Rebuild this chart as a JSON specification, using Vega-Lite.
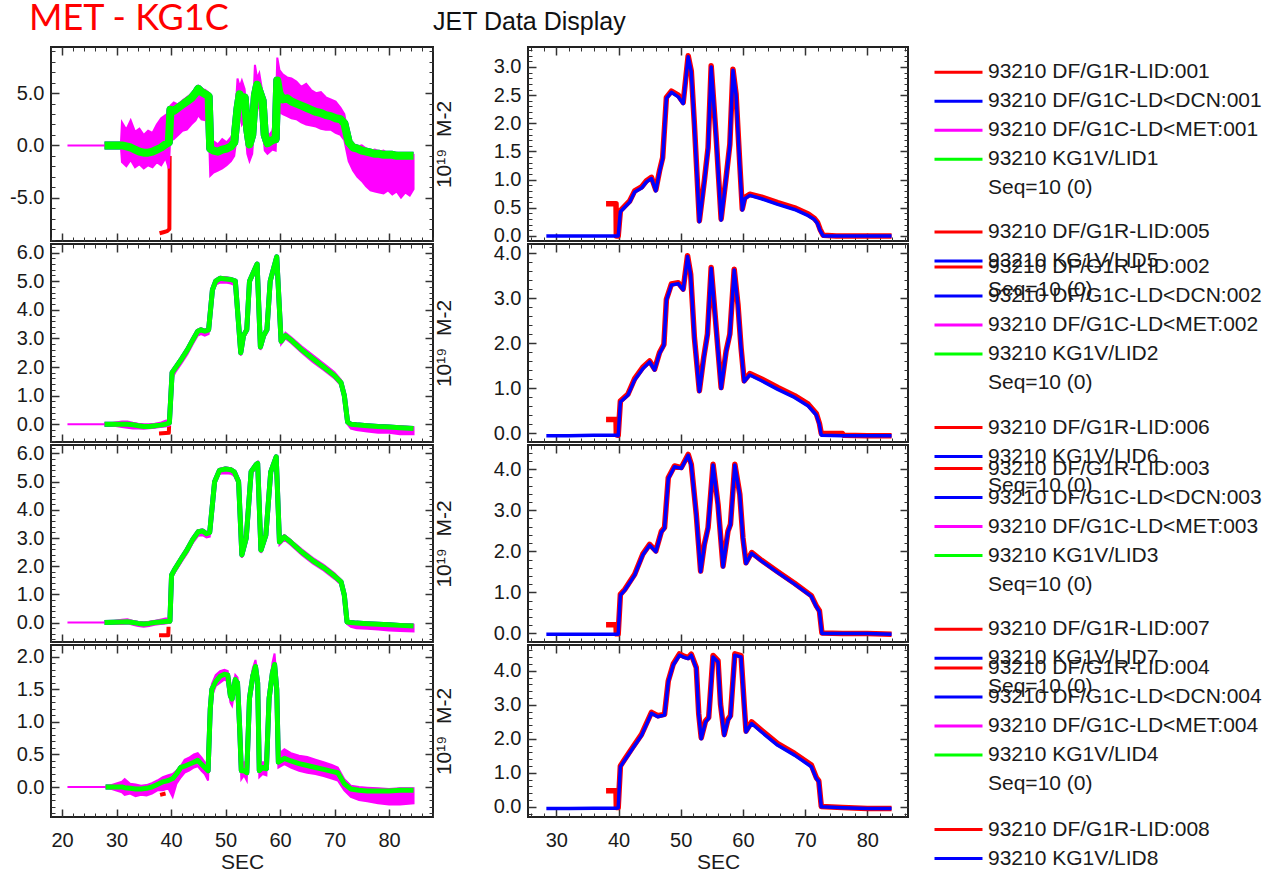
{
  "$schema": "https://vega.github.io/schema/vega-lite/v6.json",
  "padding": {"left": 8, "top": 0, "right": 0, "bottom": 0},
  "background": "white",
  "bounds": "flush",
  "columns": 2,
  "spacing": {"row": 3, "column": 95},
  "resolve": {"scale": {"color": "independent", "x": "independent", "y": "independent"}, "legend": {"color": "independent"}},
  "config": {
    "font": "Liberation Sans",
    "view": {"stroke": "#222", "strokeWidth": 2},
    "mark": {"invalid": "filter"},
    "line": {"strokeJoin": "round"},
    "axis": {"domain": false, "grid": false, "tickColor": "#333", "tickWidth": 1.5, "tickSize": -8, "labelFont": "Liberation Sans", "labelFontSize": 20, "labelColor": "#1a1a1a", "labelPadding": 15, "labelFlush": false, "labelOverlap": false, "titleFont": "Liberation Sans", "titleFontSize": 21, "titleFontWeight": "normal", "titleColor": "#1a1a1a"},
    "axisBottom": {"labelPadding": 21, "titlePadding": 1},
    "legend": {"labelFont": "Liberation Sans", "labelFontSize": 21, "labelColor": "#1a1a1a", "labelLimit": 400, "symbolType": "stroke", "symbolStrokeWidth": 3, "symbolSize": 2304, "clipHeight": 26, "rowPadding": 3, "padding": 0, "labelOffset": 4}
  },
  "concat": [
    {
      "title": {"text": "MET - KG1C", "color": "#ff0000", "font": "Lato", "fontSize": 36, "fontWeight": "normal", "anchor": "start", "frame": "group", "dx": -22, "baseline": "alphabetic", "offset": -20.2},
      "data": {"name": "left"},
      "width": 382, "height": 194,
      "transform": [{"filter": "datum.p === 'L1'"}],
      "layer": [
        {"mark": {"type": "line", "strokeWidth": 4, "clip": true},
         "encoding": {
           "x": {"field": "t", "type": "quantitative", "scale": {"domain": [17.98, 88.07], "nice": false, "zero": false}, "axis": {"orient": "bottom", "values": [20,30,40,50,60,70,80], "labels": false, "title": null}},
           "y": {"field": "r", "type": "quantitative", "scale": {"domain": [-9.14, 9.41], "nice": false, "zero": false}, "axis": {"orient": "left", "values": [-5,0,5], "format": ".1f", "labelExpr": "replace(datum.label, '\u2212', '-')", "title": null}},
           "color": {"datum": "93210 DF/G1R-LID:001", "type": "nominal", "scale": {"domain": ["93210 DF/G1R-LID:001","93210 DF/G1C-LD<DCN:001","93210 DF/G1C-LD<MET:001","93210 KG1V/LID1","Seq=10 (0)"], "range": ["#ff0000","#0000ff","#ff00ff","#00ff00","transparent"]}, "legend": {"orient": "none", "legendX": 882, "legendY": 12.2, "title": null, "symbolType": "stroke"}}
         }},
        {"mark": {"type": "line", "strokeWidth": 8, "clip": true},
         "encoding": {
           "x": {"field": "t", "type": "quantitative", "scale": {"domain": [17.98, 88.07], "nice": false, "zero": false}, "axis": {"orient": "top", "values": [20,30,40,50,60,70,80], "labels": false, "title": null}},
           "y": {"field": "g", "type": "quantitative", "scale": {"domain": [-9.14, 9.41], "nice": false, "zero": false}, "axis": {"orient": "right", "values": [-5,0,5], "labels": false, "title": "10\u00b9\u2079\u00a0\u00a0M-2", "titleAngle": 270, "titlePadding": 21}},
           "color": {"datum": "93210 DF/G1C-LD<DCN:001", "type": "nominal"}
         }},
        {"mark": {"type": "area", "stroke": "#ff00ff", "strokeWidth": 2, "clip": true},
         "encoding": {
           "x": {"field": "t", "type": "quantitative", "scale": {"domain": [17.98, 88.07], "nice": false, "zero": false}, "axis": {"orient": "bottom", "values": [18,20,22,24,26,28,30,32,34,36,38,40,42,44,46,48,50,52,54,56,58,60,62,64,66,68,70,72,74,76,78,80,82,84,86,88], "labels": false, "title": null, "tickSize": -4, "tickWidth": 1}},
           "y": {"field": "lo", "type": "quantitative", "scale": {"domain": [-9.14, 9.41], "nice": false, "zero": false}, "axis": {"orient": "left", "values": [-9,-8,-7,-6,-5,-4,-3,-2,-1,0,1,2,3,4,5,6,7,8,9], "labels": false, "title": null, "tickSize": -4, "tickWidth": 1}},
           "y2": {"field": "hi"},
           "color": {"datum": "93210 DF/G1C-LD<MET:001", "type": "nominal"}
         }},
        {"mark": {"type": "line", "strokeWidth": 8, "clip": true},
         "encoding": {
           "x": {"field": "t", "type": "quantitative", "scale": {"domain": [17.98, 88.07], "nice": false, "zero": false}, "axis": {"orient": "top", "values": [18,20,22,24,26,28,30,32,34,36,38,40,42,44,46,48,50,52,54,56,58,60,62,64,66,68,70,72,74,76,78,80,82,84,86,88], "labels": false, "title": null, "tickSize": -4, "tickWidth": 1}},
           "y": {"field": "g", "type": "quantitative", "scale": {"domain": [-9.14, 9.41], "nice": false, "zero": false}, "axis": {"orient": "right", "values": [-9,-8,-7,-6,-5,-4,-3,-2,-1,0,1,2,3,4,5,6,7,8,9], "labels": false, "title": null, "tickSize": -4, "tickWidth": 1}},
           "color": {"datum": "93210 KG1V/LID1", "type": "nominal"}
         }}
      ],
      "resolve": {"axis": {"x": "independent", "y": "independent"}}
    },
    {
      "title": {"text": "JET Data Display", "color": "#111", "font": "Liberation Sans", "fontSize": 25, "fontWeight": "normal", "anchor": "start", "frame": "group", "dx": -95, "baseline": "alphabetic", "offset": -8.7},
      "data": {"name": "right"},
      "width": 380, "height": 194,
      "transform": [{"filter": "datum.p === 'R1'"}],
      "layer": [
        {"mark": {"type": "line", "opacity": 0},
         "encoding": {
           "x": {"field": "t", "type": "quantitative", "scale": {"domain": [25.45, 86.54], "nice": false, "zero": false}, "axis": {"orient": "bottom", "values": [26,28,30,32,34,36,38,40,42,44,46,48,50,52,54,56,58,60,62,64,66,68,70,72,74,76,78,80,82,84,86], "labels": false, "title": null, "tickSize": -4, "tickWidth": 1}},
           "y": {"field": "b", "type": "quantitative", "scale": {"domain": [-0.09, 3.355], "nice": false, "zero": false}, "axis": {"orient": "left", "values": [0,0.1,0.2,0.3,0.4,0.5,0.6,0.7,0.8,0.9,1,1.1,1.2,1.3,1.4,1.5,1.6,1.7,1.8,1.9,2,2.1,2.2,2.3,2.4,2.5,2.6,2.7,2.8,2.9,3,3.1,3.2,3.3], "labels": false, "title": null, "tickSize": -4, "tickWidth": 1}}
         }},
        {"mark": {"type": "line", "opacity": 0},
         "encoding": {
           "x": {"field": "t", "type": "quantitative", "scale": {"domain": [25.45, 86.54], "nice": false, "zero": false}, "axis": {"orient": "top", "values": [26,28,30,32,34,36,38,40,42,44,46,48,50,52,54,56,58,60,62,64,66,68,70,72,74,76,78,80,82,84,86], "labels": false, "title": null, "tickSize": -4, "tickWidth": 1}},
           "y": {"field": "b", "type": "quantitative", "scale": {"domain": [-0.09, 3.355], "nice": false, "zero": false}, "axis": {"orient": "right", "values": [0,0.1,0.2,0.3,0.4,0.5,0.6,0.7,0.8,0.9,1,1.1,1.2,1.3,1.4,1.5,1.6,1.7,1.8,1.9,2,2.1,2.2,2.3,2.4,2.5,2.6,2.7,2.8,2.9,3,3.1,3.2,3.3], "labels": false, "title": null, "tickSize": -4, "tickWidth": 1}}
         }},
        {"mark": {"type": "line", "strokeWidth": 5.5, "clip": true},
         "encoding": {
           "x": {"field": "t", "type": "quantitative", "scale": {"domain": [25.45, 86.54], "nice": false, "zero": false}, "axis": {"orient": "bottom", "values": [30,40,50,60,70,80], "labels": false, "title": null}},
           "y": {"field": "r", "type": "quantitative", "scale": {"domain": [-0.09, 3.355], "nice": false, "zero": false}, "axis": {"orient": "left", "values": [0,0.5,1,1.5,2,2.5,3], "format": ".1f", "title": null}},
           "color": {"datum": "93210 DF/G1R-LID:005", "type": "nominal", "scale": {"domain": ["93210 DF/G1R-LID:005","93210 KG1V/LID5","Seq=10 (0)"], "range": ["#ff0000","#0000ff","transparent"]}, "legend": {"orient": "none", "legendX": 405, "legendY": 172, "title": null, "symbolType": "stroke"}}
         }},
        {"mark": {"type": "line", "strokeWidth": 3.5, "clip": true},
         "encoding": {
           "x": {"field": "t", "type": "quantitative", "scale": {"domain": [25.45, 86.54], "nice": false, "zero": false}, "axis": {"orient": "top", "values": [30,40,50,60,70,80], "labels": false, "title": null}},
           "y": {"field": "b", "type": "quantitative", "scale": {"domain": [-0.09, 3.355], "nice": false, "zero": false}, "axis": {"orient": "right", "values": [0,0.5,1,1.5,2,2.5,3], "labels": false, "title": null}},
           "color": {"datum": "93210 KG1V/LID5", "type": "nominal"}
         }}
      ],
      "resolve": {"axis": {"x": "independent", "y": "independent"}}
    },
    {
      "data": {"name": "left"},
      "width": 382, "height": 198,
      "transform": [{"filter": "datum.p === 'L2'"}],
      "layer": [
        {"mark": {"type": "line", "strokeWidth": 4, "clip": true},
         "encoding": {
           "x": {"field": "t", "type": "quantitative", "scale": {"domain": [17.98, 88.07], "nice": false, "zero": false}, "axis": {"orient": "bottom", "values": [20,30,40,50,60,70,80], "labels": false, "title": null}},
           "y": {"field": "r", "type": "quantitative", "scale": {"domain": [-0.62, 6.3], "nice": false, "zero": false}, "axis": {"orient": "left", "values": [0,1,2,3,4,5,6], "format": ".1f", "title": null}},
           "color": {"datum": "93210 DF/G1R-LID:002", "type": "nominal", "scale": {"domain": ["93210 DF/G1R-LID:002","93210 DF/G1C-LD<DCN:002","93210 DF/G1C-LD<MET:002","93210 KG1V/LID2","Seq=10 (0)"], "range": ["#ff0000","#0000ff","#ff00ff","#00ff00","transparent"]}, "legend": {"orient": "none", "legendX": 882, "legendY": 10, "title": null, "symbolType": "stroke"}}
         }},
        {"mark": {"type": "line", "strokeWidth": 5, "clip": true},
         "encoding": {
           "x": {"field": "t", "type": "quantitative", "scale": {"domain": [17.98, 88.07], "nice": false, "zero": false}, "axis": {"orient": "top", "values": [20,30,40,50,60,70,80], "labels": false, "title": null}},
           "y": {"field": "g", "type": "quantitative", "scale": {"domain": [-0.62, 6.3], "nice": false, "zero": false}, "axis": {"orient": "right", "values": [0,1,2,3,4,5,6], "labels": false, "title": "10\u00b9\u2079\u00a0\u00a0M-2", "titleAngle": 270, "titlePadding": 21}},
           "color": {"datum": "93210 DF/G1C-LD<DCN:002", "type": "nominal"}
         }},
        {"mark": {"type": "area", "stroke": "#ff00ff", "strokeWidth": 2, "clip": true},
         "encoding": {
           "x": {"field": "t", "type": "quantitative", "scale": {"domain": [17.98, 88.07], "nice": false, "zero": false}, "axis": {"orient": "bottom", "values": [18,20,22,24,26,28,30,32,34,36,38,40,42,44,46,48,50,52,54,56,58,60,62,64,66,68,70,72,74,76,78,80,82,84,86,88], "labels": false, "title": null, "tickSize": -4, "tickWidth": 1}},
           "y": {"field": "lo", "type": "quantitative", "scale": {"domain": [-0.62, 6.3], "nice": false, "zero": false}, "axis": {"orient": "left", "values": [-0.6,-0.4,-0.2,0,0.2,0.4,0.6,0.8,1,1.2,1.4,1.6,1.8,2,2.2,2.4,2.6,2.8,3,3.2,3.4,3.6,3.8,4,4.2,4.4,4.6,4.8,5,5.2,5.4,5.6,5.8,6,6.2], "labels": false, "title": null, "tickSize": -4, "tickWidth": 1}},
           "y2": {"field": "hi"},
           "color": {"datum": "93210 DF/G1C-LD<MET:002", "type": "nominal"}
         }},
        {"mark": {"type": "line", "strokeWidth": 5, "clip": true},
         "encoding": {
           "x": {"field": "t", "type": "quantitative", "scale": {"domain": [17.98, 88.07], "nice": false, "zero": false}, "axis": {"orient": "top", "values": [18,20,22,24,26,28,30,32,34,36,38,40,42,44,46,48,50,52,54,56,58,60,62,64,66,68,70,72,74,76,78,80,82,84,86,88], "labels": false, "title": null, "tickSize": -4, "tickWidth": 1}},
           "y": {"field": "g", "type": "quantitative", "scale": {"domain": [-0.62, 6.3], "nice": false, "zero": false}, "axis": {"orient": "right", "values": [-0.6,-0.4,-0.2,0,0.2,0.4,0.6,0.8,1,1.2,1.4,1.6,1.8,2,2.2,2.4,2.6,2.8,3,3.2,3.4,3.6,3.8,4,4.2,4.4,4.6,4.8,5,5.2,5.4,5.6,5.8,6,6.2], "labels": false, "title": null, "tickSize": -4, "tickWidth": 1}},
           "color": {"datum": "93210 KG1V/LID2", "type": "nominal"}
         }}
      ],
      "resolve": {"axis": {"x": "independent", "y": "independent"}}
    },
    {
      "data": {"name": "right"},
      "width": 380, "height": 198,
      "transform": [{"filter": "datum.p === 'R2'"}],
      "layer": [
        {"mark": {"type": "line", "opacity": 0},
         "encoding": {
           "x": {"field": "t", "type": "quantitative", "scale": {"domain": [25.45, 86.54], "nice": false, "zero": false}, "axis": {"orient": "bottom", "values": [26,28,30,32,34,36,38,40,42,44,46,48,50,52,54,56,58,60,62,64,66,68,70,72,74,76,78,80,82,84,86], "labels": false, "title": null, "tickSize": -4, "tickWidth": 1}},
           "y": {"field": "b", "type": "quantitative", "scale": {"domain": [-0.19, 4.21], "nice": false, "zero": false}, "axis": {"orient": "left", "values": [-0.2,0,0.2,0.4,0.6,0.8,1,1.2,1.4,1.6,1.8,2,2.2,2.4,2.6,2.8,3,3.2,3.4,3.6,3.8,4,4.2], "labels": false, "title": null, "tickSize": -4, "tickWidth": 1}}
         }},
        {"mark": {"type": "line", "opacity": 0},
         "encoding": {
           "x": {"field": "t", "type": "quantitative", "scale": {"domain": [25.45, 86.54], "nice": false, "zero": false}, "axis": {"orient": "top", "values": [26,28,30,32,34,36,38,40,42,44,46,48,50,52,54,56,58,60,62,64,66,68,70,72,74,76,78,80,82,84,86], "labels": false, "title": null, "tickSize": -4, "tickWidth": 1}},
           "y": {"field": "b", "type": "quantitative", "scale": {"domain": [-0.19, 4.21], "nice": false, "zero": false}, "axis": {"orient": "right", "values": [-0.2,0,0.2,0.4,0.6,0.8,1,1.2,1.4,1.6,1.8,2,2.2,2.4,2.6,2.8,3,3.2,3.4,3.6,3.8,4,4.2], "labels": false, "title": null, "tickSize": -4, "tickWidth": 1}}
         }},
        {"mark": {"type": "line", "strokeWidth": 5.5, "clip": true},
         "encoding": {
           "x": {"field": "t", "type": "quantitative", "scale": {"domain": [25.45, 86.54], "nice": false, "zero": false}, "axis": {"orient": "bottom", "values": [30,40,50,60,70,80], "labels": false, "title": null}},
           "y": {"field": "r", "type": "quantitative", "scale": {"domain": [-0.19, 4.21], "nice": false, "zero": false}, "axis": {"orient": "left", "values": [0,1,2,3,4], "format": ".1f", "title": null}},
           "color": {"datum": "93210 DF/G1R-LID:006", "type": "nominal", "scale": {"domain": ["93210 DF/G1R-LID:006","93210 KG1V/LID6","Seq=10 (0)"], "range": ["#ff0000","#0000ff","transparent"]}, "legend": {"orient": "none", "legendX": 405, "legendY": 170.5, "title": null, "symbolType": "stroke"}}
         }},
        {"mark": {"type": "line", "strokeWidth": 3.5, "clip": true},
         "encoding": {
           "x": {"field": "t", "type": "quantitative", "scale": {"domain": [25.45, 86.54], "nice": false, "zero": false}, "axis": {"orient": "top", "values": [30,40,50,60,70,80], "labels": false, "title": null}},
           "y": {"field": "b", "type": "quantitative", "scale": {"domain": [-0.19, 4.21], "nice": false, "zero": false}, "axis": {"orient": "right", "values": [0,1,2,3,4], "labels": false, "title": null}},
           "color": {"datum": "93210 KG1V/LID6", "type": "nominal"}
         }}
      ],
      "resolve": {"axis": {"x": "independent", "y": "independent"}}
    },
    {
      "data": {"name": "left"},
      "width": 382, "height": 197,
      "transform": [{"filter": "datum.p === 'L3'"}],
      "layer": [
        {"mark": {"type": "line", "strokeWidth": 4, "clip": true},
         "encoding": {
           "x": {"field": "t", "type": "quantitative", "scale": {"domain": [17.98, 88.07], "nice": false, "zero": false}, "axis": {"orient": "bottom", "values": [20,30,40,50,60,70,80], "labels": false, "title": null}},
           "y": {"field": "r", "type": "quantitative", "scale": {"domain": [-0.69, 6.3], "nice": false, "zero": false}, "axis": {"orient": "left", "values": [0,1,2,3,4,5,6], "format": ".1f", "title": null}},
           "color": {"datum": "93210 DF/G1R-LID:003", "type": "nominal", "scale": {"domain": ["93210 DF/G1R-LID:003","93210 DF/G1C-LD<DCN:003","93210 DF/G1C-LD<MET:003","93210 KG1V/LID3","Seq=10 (0)"], "range": ["#ff0000","#0000ff","#ff00ff","#00ff00","transparent"]}, "legend": {"orient": "none", "legendX": 882, "legendY": 10.5, "title": null, "symbolType": "stroke"}}
         }},
        {"mark": {"type": "line", "strokeWidth": 5, "clip": true},
         "encoding": {
           "x": {"field": "t", "type": "quantitative", "scale": {"domain": [17.98, 88.07], "nice": false, "zero": false}, "axis": {"orient": "top", "values": [20,30,40,50,60,70,80], "labels": false, "title": null}},
           "y": {"field": "g", "type": "quantitative", "scale": {"domain": [-0.69, 6.3], "nice": false, "zero": false}, "axis": {"orient": "right", "values": [0,1,2,3,4,5,6], "labels": false, "title": "10\u00b9\u2079\u00a0\u00a0M-2", "titleAngle": 270, "titlePadding": 21}},
           "color": {"datum": "93210 DF/G1C-LD<DCN:003", "type": "nominal"}
         }},
        {"mark": {"type": "area", "stroke": "#ff00ff", "strokeWidth": 2, "clip": true},
         "encoding": {
           "x": {"field": "t", "type": "quantitative", "scale": {"domain": [17.98, 88.07], "nice": false, "zero": false}, "axis": {"orient": "bottom", "values": [18,20,22,24,26,28,30,32,34,36,38,40,42,44,46,48,50,52,54,56,58,60,62,64,66,68,70,72,74,76,78,80,82,84,86,88], "labels": false, "title": null, "tickSize": -4, "tickWidth": 1}},
           "y": {"field": "lo", "type": "quantitative", "scale": {"domain": [-0.69, 6.3], "nice": false, "zero": false}, "axis": {"orient": "left", "values": [-0.6,-0.4,-0.2,0,0.2,0.4,0.6,0.8,1,1.2,1.4,1.6,1.8,2,2.2,2.4,2.6,2.8,3,3.2,3.4,3.6,3.8,4,4.2,4.4,4.6,4.8,5,5.2,5.4,5.6,5.8,6,6.2], "labels": false, "title": null, "tickSize": -4, "tickWidth": 1}},
           "y2": {"field": "hi"},
           "color": {"datum": "93210 DF/G1C-LD<MET:003", "type": "nominal"}
         }},
        {"mark": {"type": "line", "strokeWidth": 5, "clip": true},
         "encoding": {
           "x": {"field": "t", "type": "quantitative", "scale": {"domain": [17.98, 88.07], "nice": false, "zero": false}, "axis": {"orient": "top", "values": [18,20,22,24,26,28,30,32,34,36,38,40,42,44,46,48,50,52,54,56,58,60,62,64,66,68,70,72,74,76,78,80,82,84,86,88], "labels": false, "title": null, "tickSize": -4, "tickWidth": 1}},
           "y": {"field": "g", "type": "quantitative", "scale": {"domain": [-0.69, 6.3], "nice": false, "zero": false}, "axis": {"orient": "right", "values": [-0.6,-0.4,-0.2,0,0.2,0.4,0.6,0.8,1,1.2,1.4,1.6,1.8,2,2.2,2.4,2.6,2.8,3,3.2,3.4,3.6,3.8,4,4.2,4.4,4.6,4.8,5,5.2,5.4,5.6,5.8,6,6.2], "labels": false, "title": null, "tickSize": -4, "tickWidth": 1}},
           "color": {"datum": "93210 KG1V/LID3", "type": "nominal"}
         }}
      ],
      "resolve": {"axis": {"x": "independent", "y": "independent"}}
    },
    {
      "data": {"name": "right"},
      "width": 380, "height": 197,
      "transform": [{"filter": "datum.p === 'R3'"}],
      "layer": [
        {"mark": {"type": "line", "opacity": 0},
         "encoding": {
           "x": {"field": "t", "type": "quantitative", "scale": {"domain": [25.45, 86.54], "nice": false, "zero": false}, "axis": {"orient": "bottom", "values": [26,28,30,32,34,36,38,40,42,44,46,48,50,52,54,56,58,60,62,64,66,68,70,72,74,76,78,80,82,84,86], "labels": false, "title": null, "tickSize": -4, "tickWidth": 1}},
           "y": {"field": "b", "type": "quantitative", "scale": {"domain": [-0.21, 4.59], "nice": false, "zero": false}, "axis": {"orient": "left", "values": [-0.2,0,0.2,0.4,0.6,0.8,1,1.2,1.4,1.6,1.8,2,2.2,2.4,2.6,2.8,3,3.2,3.4,3.6,3.8,4,4.2,4.4], "labels": false, "title": null, "tickSize": -4, "tickWidth": 1}}
         }},
        {"mark": {"type": "line", "opacity": 0},
         "encoding": {
           "x": {"field": "t", "type": "quantitative", "scale": {"domain": [25.45, 86.54], "nice": false, "zero": false}, "axis": {"orient": "top", "values": [26,28,30,32,34,36,38,40,42,44,46,48,50,52,54,56,58,60,62,64,66,68,70,72,74,76,78,80,82,84,86], "labels": false, "title": null, "tickSize": -4, "tickWidth": 1}},
           "y": {"field": "b", "type": "quantitative", "scale": {"domain": [-0.21, 4.59], "nice": false, "zero": false}, "axis": {"orient": "right", "values": [-0.2,0,0.2,0.4,0.6,0.8,1,1.2,1.4,1.6,1.8,2,2.2,2.4,2.6,2.8,3,3.2,3.4,3.6,3.8,4,4.2,4.4], "labels": false, "title": null, "tickSize": -4, "tickWidth": 1}}
         }},
        {"mark": {"type": "line", "strokeWidth": 5.5, "clip": true},
         "encoding": {
           "x": {"field": "t", "type": "quantitative", "scale": {"domain": [25.45, 86.54], "nice": false, "zero": false}, "axis": {"orient": "bottom", "values": [30,40,50,60,70,80], "labels": false, "title": null}},
           "y": {"field": "r", "type": "quantitative", "scale": {"domain": [-0.21, 4.59], "nice": false, "zero": false}, "axis": {"orient": "left", "values": [0,1,2,3,4], "format": ".1f", "title": null}},
           "color": {"datum": "93210 DF/G1R-LID:007", "type": "nominal", "scale": {"domain": ["93210 DF/G1R-LID:007","93210 KG1V/LID7","Seq=10 (0)"], "range": ["#ff0000","#0000ff","transparent"]}, "legend": {"orient": "none", "legendX": 405, "legendY": 171.2, "title": null, "symbolType": "stroke"}}
         }},
        {"mark": {"type": "line", "strokeWidth": 3.5, "clip": true},
         "encoding": {
           "x": {"field": "t", "type": "quantitative", "scale": {"domain": [25.45, 86.54], "nice": false, "zero": false}, "axis": {"orient": "top", "values": [30,40,50,60,70,80], "labels": false, "title": null}},
           "y": {"field": "b", "type": "quantitative", "scale": {"domain": [-0.21, 4.59], "nice": false, "zero": false}, "axis": {"orient": "right", "values": [0,1,2,3,4], "labels": false, "title": null}},
           "color": {"datum": "93210 KG1V/LID7", "type": "nominal"}
         }}
      ],
      "resolve": {"axis": {"x": "independent", "y": "independent"}}
    },
    {
      "data": {"name": "left"},
      "width": 382, "height": 172,
      "transform": [{"filter": "datum.p === 'L4'"}],
      "layer": [
        {"mark": {"type": "line", "strokeWidth": 4, "clip": true},
         "encoding": {
           "x": {"field": "t", "type": "quantitative", "scale": {"domain": [17.98, 88.07], "nice": false, "zero": false}, "axis": {"orient": "bottom", "values": [20,30,40,50,60,70,80], "format": "d", "title": "SEC"}},
           "y": {"field": "r", "type": "quantitative", "scale": {"domain": [-0.46, 2.18], "nice": false, "zero": false}, "axis": {"orient": "left", "values": [0,0.5,1,1.5,2], "format": ".1f", "title": null}},
           "color": {"datum": "93210 DF/G1R-LID:004", "type": "nominal", "scale": {"domain": ["93210 DF/G1R-LID:004","93210 DF/G1C-LD<DCN:004","93210 DF/G1C-LD<MET:004","93210 KG1V/LID4","Seq=10 (0)"], "range": ["#ff0000","#0000ff","#ff00ff","#00ff00","transparent"]}, "legend": {"orient": "none", "legendX": 882, "legendY": 9.9, "title": null, "symbolType": "stroke"}}
         }},
        {"mark": {"type": "line", "strokeWidth": 5, "clip": true},
         "encoding": {
           "x": {"field": "t", "type": "quantitative", "scale": {"domain": [17.98, 88.07], "nice": false, "zero": false}, "axis": {"orient": "top", "values": [20,30,40,50,60,70,80], "labels": false, "title": null}},
           "y": {"field": "g", "type": "quantitative", "scale": {"domain": [-0.46, 2.18], "nice": false, "zero": false}, "axis": {"orient": "right", "values": [0,0.5,1,1.5,2], "labels": false, "title": "10\u00b9\u2079\u00a0\u00a0M-2", "titleAngle": 270, "titlePadding": 21}},
           "color": {"datum": "93210 DF/G1C-LD<DCN:004", "type": "nominal"}
         }},
        {"mark": {"type": "area", "stroke": "#ff00ff", "strokeWidth": 2, "clip": true},
         "encoding": {
           "x": {"field": "t", "type": "quantitative", "scale": {"domain": [17.98, 88.07], "nice": false, "zero": false}, "axis": {"orient": "bottom", "values": [18,20,22,24,26,28,30,32,34,36,38,40,42,44,46,48,50,52,54,56,58,60,62,64,66,68,70,72,74,76,78,80,82,84,86,88], "labels": false, "title": null, "tickSize": -4, "tickWidth": 1}},
           "y": {"field": "lo", "type": "quantitative", "scale": {"domain": [-0.46, 2.18], "nice": false, "zero": false}, "axis": {"orient": "left", "values": [-0.4,-0.3,-0.2,-0.1,0,0.1,0.2,0.3,0.4,0.5,0.6,0.7,0.8,0.9,1,1.1,1.2,1.3,1.4,1.5,1.6,1.7,1.8,1.9,2,2.1], "labels": false, "title": null, "tickSize": -4, "tickWidth": 1}},
           "y2": {"field": "hi"},
           "color": {"datum": "93210 DF/G1C-LD<MET:004", "type": "nominal"}
         }},
        {"mark": {"type": "line", "strokeWidth": 5, "clip": true},
         "encoding": {
           "x": {"field": "t", "type": "quantitative", "scale": {"domain": [17.98, 88.07], "nice": false, "zero": false}, "axis": {"orient": "top", "values": [18,20,22,24,26,28,30,32,34,36,38,40,42,44,46,48,50,52,54,56,58,60,62,64,66,68,70,72,74,76,78,80,82,84,86,88], "labels": false, "title": null, "tickSize": -4, "tickWidth": 1}},
           "y": {"field": "g", "type": "quantitative", "scale": {"domain": [-0.46, 2.18], "nice": false, "zero": false}, "axis": {"orient": "right", "values": [-0.4,-0.3,-0.2,-0.1,0,0.1,0.2,0.3,0.4,0.5,0.6,0.7,0.8,0.9,1,1.1,1.2,1.3,1.4,1.5,1.6,1.7,1.8,1.9,2,2.1], "labels": false, "title": null, "tickSize": -4, "tickWidth": 1}},
           "color": {"datum": "93210 KG1V/LID4", "type": "nominal"}
         }}
      ],
      "resolve": {"axis": {"x": "independent", "y": "independent"}}
    },
    {
      "data": {"name": "right"},
      "width": 380, "height": 172,
      "transform": [{"filter": "datum.p === 'R4'"}],
      "layer": [
        {"mark": {"type": "line", "opacity": 0},
         "encoding": {
           "x": {"field": "t", "type": "quantitative", "scale": {"domain": [25.45, 86.54], "nice": false, "zero": false}, "axis": {"orient": "bottom", "values": [26,28,30,32,34,36,38,40,42,44,46,48,50,52,54,56,58,60,62,64,66,68,70,72,74,76,78,80,82,84,86], "labels": false, "title": null, "tickSize": -4, "tickWidth": 1}},
           "y": {"field": "b", "type": "quantitative", "scale": {"domain": [-0.3, 4.76], "nice": false, "zero": false}, "axis": {"orient": "left", "values": [-0.2,0,0.2,0.4,0.6,0.8,1,1.2,1.4,1.6,1.8,2,2.2,2.4,2.6,2.8,3,3.2,3.4,3.6,3.8,4,4.2,4.4,4.6], "labels": false, "title": null, "tickSize": -4, "tickWidth": 1}}
         }},
        {"mark": {"type": "line", "opacity": 0},
         "encoding": {
           "x": {"field": "t", "type": "quantitative", "scale": {"domain": [25.45, 86.54], "nice": false, "zero": false}, "axis": {"orient": "top", "values": [26,28,30,32,34,36,38,40,42,44,46,48,50,52,54,56,58,60,62,64,66,68,70,72,74,76,78,80,82,84,86], "labels": false, "title": null, "tickSize": -4, "tickWidth": 1}},
           "y": {"field": "b", "type": "quantitative", "scale": {"domain": [-0.3, 4.76], "nice": false, "zero": false}, "axis": {"orient": "right", "values": [-0.2,0,0.2,0.4,0.6,0.8,1,1.2,1.4,1.6,1.8,2,2.2,2.4,2.6,2.8,3,3.2,3.4,3.6,3.8,4,4.2,4.4,4.6], "labels": false, "title": null, "tickSize": -4, "tickWidth": 1}}
         }},
        {"mark": {"type": "line", "strokeWidth": 5.5, "clip": true},
         "encoding": {
           "x": {"field": "t", "type": "quantitative", "scale": {"domain": [25.45, 86.54], "nice": false, "zero": false}, "axis": {"orient": "bottom", "values": [30,40,50,60,70,80], "format": "d", "title": "SEC"}},
           "y": {"field": "r", "type": "quantitative", "scale": {"domain": [-0.3, 4.76], "nice": false, "zero": false}, "axis": {"orient": "left", "values": [0,1,2,3,4], "format": ".1f", "title": null}},
           "color": {"datum": "93210 DF/G1R-LID:008", "type": "nominal", "scale": {"domain": ["93210 DF/G1R-LID:008","93210 KG1V/LID8"], "range": ["#ff0000","#0000ff"]}, "legend": {"orient": "none", "legendX": 405, "legendY": 171.5, "title": null, "symbolType": "stroke"}}
         }},
        {"mark": {"type": "line", "strokeWidth": 3.5, "clip": true},
         "encoding": {
           "x": {"field": "t", "type": "quantitative", "scale": {"domain": [25.45, 86.54], "nice": false, "zero": false}, "axis": {"orient": "top", "values": [30,40,50,60,70,80], "labels": false, "title": null}},
           "y": {"field": "b", "type": "quantitative", "scale": {"domain": [-0.3, 4.76], "nice": false, "zero": false}, "axis": {"orient": "right", "values": [0,1,2,3,4], "labels": false, "title": null}},
           "color": {"datum": "93210 KG1V/LID8", "type": "nominal"}
         }}
      ],
      "resolve": {"axis": {"x": "independent", "y": "independent"}}
    }
  ],
  "datasets": {
    "left": [
      {"p":"L1","t":21,"lo":0,"hi":0},{"p":"L1","t":27.8,"g":0,"lo":0,"hi":0},{"p":"L1","t":30.8,"g":0,"lo":-0.1,"hi":0.1},
      {"p":"L1","t":31.0,"g":0,"lo":-1.6,"hi":2.2},{"p":"L1","t":31.8,"g":-0.1,"lo":-2.0,"hi":1.5},{"p":"L1","t":32.6,"g":-0.2,"lo":-1.4,"hi":2.4},
      {"p":"L1","t":33.4,"g":-0.4,"lo":-2.1,"hi":1.3},{"p":"L1","t":34.2,"g":-0.6,"lo":-1.8,"hi":1.6},{"p":"L1","t":35.0,"g":-0.7,"lo":-2.2,"hi":1.0},
      {"p":"L1","t":35.8,"g":-0.7,"lo":-1.9,"hi":1.4},{"p":"L1","t":36.6,"g":-0.6,"lo":-2.1,"hi":1.2},{"p":"L1","t":37.4,"g":-0.4,"lo":-1.6,"hi":2.0},
      {"p":"L1","t":38.2,"g":-0.2,"lo":-1.9,"hi":2.6},{"p":"L1","t":39.0,"g":0.1,"lo":-1.2,"hi":2.9},{"p":"L1","t":39.6,"g":0.3,"lo":-2.2,"hi":2.0},
      {"p":"L1","t":39.9,"g":3.4,"lo":1.2,"hi":3.8},{"p":"L1","t":40.5,"g":3.3,"lo":0.6,"hi":4.1},{"p":"L1","t":41.3,"g":3.6,"lo":1.0,"hi":3.9},
      {"p":"L1","t":42.1,"g":3.9,"lo":1.4,"hi":4.3},{"p":"L1","t":42.9,"g":4.2,"lo":1.5,"hi":4.6},{"p":"L1","t":43.7,"g":4.5,"lo":2.0,"hi":4.9},
      {"p":"L1","t":44.5,"g":5.0,"lo":2.4,"hi":5.3},{"p":"L1","t":45.0,"g":5.4,"lo":2.9,"hi":5.7},{"p":"L1","t":45.6,"g":5.1,"lo":2.5,"hi":5.4},
      {"p":"L1","t":46.3,"g":4.9,"lo":2.4,"hi":5.3},{"p":"L1","t":46.9,"g":4.7,"lo":2.2,"hi":5.0},{"p":"L1","t":47.2,"g":-0.3,"lo":-2.9,"hi":0.2},
      {"p":"L1","t":47.8,"g":-0.5,"lo":-2.6,"hi":0.4},{"p":"L1","t":48.6,"g":-0.6,"lo":-2.4,"hi":0.1},{"p":"L1","t":49.4,"g":-0.4,"lo":-2.2,"hi":0.6},
      {"p":"L1","t":50.2,"g":-0.3,"lo":-1.9,"hi":0.3},{"p":"L1","t":51.0,"g":-0.1,"lo":-1.5,"hi":0.8},{"p":"L1","t":51.6,"g":0.3,"lo":-1.0,"hi":1.2},
      {"p":"L1","t":52.2,"g":3.5,"lo":1.5,"hi":6.4},{"p":"L1","t":52.6,"g":4.9,"lo":3.0,"hi":5.6},{"p":"L1","t":53.0,"g":4.0,"lo":2.0,"hi":6.2},
      {"p":"L1","t":53.5,"g":4.6,"lo":2.5,"hi":5.4},{"p":"L1","t":54.0,"g":1.5,"lo":-0.8,"hi":2.5},{"p":"L1","t":54.4,"g":0.1,"lo":-1.5,"hi":1.0},
      {"p":"L1","t":54.9,"g":1.0,"lo":-0.8,"hi":2.0},{"p":"L1","t":55.4,"g":4.8,"lo":2.8,"hi":7.7},{"p":"L1","t":55.8,"g":5.8,"lo":3.9,"hi":6.4},
      {"p":"L1","t":56.2,"g":5.2,"lo":3.5,"hi":6.9},{"p":"L1","t":56.8,"g":4.3,"lo":2.0,"hi":5.0},{"p":"L1","t":57.2,"g":1.0,"lo":-0.5,"hi":1.6},
      {"p":"L1","t":57.7,"g":0.2,"lo":-0.8,"hi":0.8},{"p":"L1","t":58.6,"g":0.5,"lo":-0.4,"hi":1.4},{"p":"L1","t":59.2,"g":0.6,"lo":-0.5,"hi":3.0},
      {"p":"L1","t":59.5,"g":6.2,"lo":3.5,"hi":8.4},{"p":"L1","t":59.9,"g":5.0,"lo":3.2,"hi":7.2},{"p":"L1","t":60.5,"g":4.4,"lo":3.0,"hi":6.8},
      {"p":"L1","t":61.3,"g":4.5,"lo":2.8,"hi":6.5},{"p":"L1","t":62.1,"g":4.2,"lo":2.6,"hi":6.4},{"p":"L1","t":63.0,"g":4.0,"lo":2.5,"hi":6.1},
      {"p":"L1","t":63.9,"g":3.8,"lo":2.2,"hi":5.6},{"p":"L1","t":64.8,"g":3.6,"lo":2.0,"hi":5.9},{"p":"L1","t":65.7,"g":3.4,"lo":1.9,"hi":5.3},
      {"p":"L1","t":66.6,"g":3.2,"lo":1.8,"hi":5.0},{"p":"L1","t":67.5,"g":3.1,"lo":1.6,"hi":5.1},{"p":"L1","t":68.4,"g":2.9,"lo":1.5,"hi":4.6},
      {"p":"L1","t":69.3,"g":2.8,"lo":1.5,"hi":4.4},{"p":"L1","t":70.2,"g":2.6,"lo":1.2,"hi":4.2},{"p":"L1","t":71.1,"g":2.5,"lo":1.0,"hi":3.6},
      {"p":"L1","t":71.8,"g":2.1,"lo":0.5,"hi":3.0},{"p":"L1","t":72.6,"g":0.3,"lo":-1.5,"hi":0.6},{"p":"L1","t":73.4,"g":-0.2,"lo":-2.4,"hi":0.2},
      {"p":"L1","t":74.2,"g":-0.3,"lo":-3.0,"hi":-0.1},{"p":"L1","t":75.0,"g":-0.5,"lo":-3.4,"hi":0.0},{"p":"L1","t":75.8,"g":-0.6,"lo":-3.9,"hi":-0.3},
      {"p":"L1","t":76.6,"g":-0.7,"lo":-4.3,"hi":-0.5},{"p":"L1","t":77.4,"g":-0.8,"lo":-4.4,"hi":-0.4},{"p":"L1","t":78.2,"g":-0.8,"lo":-4.5,"hi":-0.6},
      {"p":"L1","t":79.0,"g":-0.9,"lo":-4.6,"hi":-0.5},{"p":"L1","t":79.8,"g":-0.9,"lo":-4.3,"hi":-0.8},{"p":"L1","t":80.6,"g":-0.9,"lo":-4.7,"hi":-0.7},
      {"p":"L1","t":81.4,"g":-1.0,"lo":-4.4,"hi":-0.8},{"p":"L1","t":82.2,"g":-1.0,"lo":-5.0,"hi":-0.9},{"p":"L1","t":83.0,"g":-1.0,"lo":-4.5,"hi":-0.9},
      {"p":"L1","t":83.8,"g":-1.0,"lo":-4.8,"hi":-0.8},{"p":"L1","t":84.5,"g":-1.0,"lo":-4.2,"hi":-0.9},
      {"p":"L1","t":37.9,"r":-8.4},{"p":"L1","t":38.6,"r":-8.3},{"p":"L1","t":39.3,"r":-8.2},{"p":"L1","t":39.7,"r":-8.0},{"p":"L1","t":39.75,"r":-1.0},

      {"p":"L2","t":21,"lo":0,"hi":0},{"p":"L2","t":27.8,"g":0,"lo":0,"hi":0},{"p":"L2","t":31.0,"g":0,"lo":-0.1,"hi":0.1},
      {"p":"L2","t":32.0,"g":0,"lo":-0.12,"hi":0.1},{"p":"L2","t":33.0,"g":-0.02,"lo":-0.15,"hi":0.05},{"p":"L2","t":34.0,"g":-0.05,"lo":-0.15,"hi":0.02},
      {"p":"L2","t":35.0,"g":-0.08,"lo":-0.16,"hi":0.0},{"p":"L2","t":36.0,"g":-0.08,"lo":-0.14,"hi":0.0},{"p":"L2","t":37.0,"g":-0.05,"lo":-0.12,"hi":0.02},
      {"p":"L2","t":38.0,"g":-0.03,"lo":-0.1,"hi":0.05},{"p":"L2","t":39.0,"g":0.0,"lo":-0.08,"hi":0.12},{"p":"L2","t":39.7,"g":0.05,"lo":-0.05,"hi":0.15},
      {"p":"L2","t":40.2,"g":1.8,"lo":1.6,"hi":1.88},{"p":"L2","t":40.9,"g":2.0,"lo":1.85,"hi":2.05},{"p":"L2","t":42.0,"g":2.3,"lo":2.15,"hi":2.35},
      {"p":"L2","t":43.0,"g":2.6,"lo":2.45,"hi":2.65},{"p":"L2","t":44.0,"g":2.95,"lo":2.8,"hi":3.0},{"p":"L2","t":44.9,"g":3.25,"lo":3.1,"hi":3.3},
      {"p":"L2","t":45.5,"g":3.3,"lo":3.15,"hi":3.35},{"p":"L2","t":46.2,"g":3.25,"lo":3.1,"hi":3.3},{"p":"L2","t":46.9,"g":3.3,"lo":3.15,"hi":3.35},
      {"p":"L2","t":47.6,"g":4.7,"lo":4.6,"hi":4.75},{"p":"L2","t":48.2,"g":5.0,"lo":4.88,"hi":5.05},{"p":"L2","t":49.0,"g":5.1,"lo":4.95,"hi":5.15},
      {"p":"L2","t":50.0,"g":5.08,"lo":4.95,"hi":5.15},{"p":"L2","t":51.0,"g":5.06,"lo":4.92,"hi":5.1},{"p":"L2","t":51.8,"g":5.0,"lo":4.85,"hi":5.05},
      {"p":"L2","t":52.4,"g":3.5,"lo":3.4,"hi":3.55},{"p":"L2","t":52.8,"g":2.5,"lo":2.4,"hi":2.55},{"p":"L2","t":53.3,"g":3.1,"lo":3.0,"hi":3.15},
      {"p":"L2","t":53.9,"g":3.3,"lo":3.2,"hi":3.35},{"p":"L2","t":54.4,"g":5.0,"lo":4.9,"hi":5.05},{"p":"L2","t":55.1,"g":5.3,"lo":5.2,"hi":5.35},
      {"p":"L2","t":55.8,"g":5.6,"lo":5.5,"hi":5.65},{"p":"L2","t":56.4,"g":2.7,"lo":2.6,"hi":2.75},{"p":"L2","t":57.0,"g":3.1,"lo":3.0,"hi":3.15},
      {"p":"L2","t":57.6,"g":3.3,"lo":3.2,"hi":3.35},{"p":"L2","t":58.2,"g":5.0,"lo":4.9,"hi":5.05},{"p":"L2","t":58.9,"g":5.5,"lo":5.4,"hi":5.55},
      {"p":"L2","t":59.4,"g":5.85,"lo":5.75,"hi":5.9},{"p":"L2","t":60.2,"g":2.9,"lo":2.8,"hi":2.95},{"p":"L2","t":61.0,"g":3.1,"lo":3.0,"hi":3.2},
      {"p":"L2","t":62.0,"g":2.95,"lo":2.85,"hi":3.05},{"p":"L2","t":64.0,"g":2.6,"lo":2.5,"hi":2.72},{"p":"L2","t":66.0,"g":2.3,"lo":2.18,"hi":2.42},
      {"p":"L2","t":68.0,"g":2.0,"lo":1.9,"hi":2.12},{"p":"L2","t":70.0,"g":1.7,"lo":1.6,"hi":1.82},{"p":"L2","t":71.2,"g":1.45,"lo":1.35,"hi":1.55},
      {"p":"L2","t":71.8,"g":1.0,"lo":0.9,"hi":1.05},{"p":"L2","t":72.4,"g":0.08,"lo":0.0,"hi":0.12},{"p":"L2","t":73.0,"g":0.0,"lo":-0.15,"hi":0.02},
      {"p":"L2","t":74.0,"g":-0.02,"lo":-0.2,"hi":0.0},{"p":"L2","t":76.0,"g":-0.05,"lo":-0.25,"hi":-0.02},{"p":"L2","t":78.0,"g":-0.08,"lo":-0.3,"hi":-0.05},
      {"p":"L2","t":80.0,"g":-0.1,"lo":-0.3,"hi":-0.07},{"p":"L2","t":82.0,"g":-0.12,"lo":-0.35,"hi":-0.08},{"p":"L2","t":84.5,"g":-0.15,"lo":-0.35,"hi":-0.1},
      {"p":"L2","t":37.8,"r":-0.32},{"p":"L2","t":39.6,"r":-0.3},{"p":"L2","t":39.65,"r":-0.05},

      {"p":"L3","t":21,"lo":0,"hi":0},{"p":"L3","t":27.8,"g":0,"lo":0,"hi":0},{"p":"L3","t":31.0,"g":0.02,"lo":-0.05,"hi":0.1},
      {"p":"L3","t":32.0,"g":0.03,"lo":-0.02,"hi":0.12},{"p":"L3","t":33.0,"g":0.0,"lo":-0.08,"hi":0.06},{"p":"L3","t":34.0,"g":-0.03,"lo":-0.12,"hi":0.02},
      {"p":"L3","t":35.0,"g":-0.05,"lo":-0.15,"hi":0.0},{"p":"L3","t":36.0,"g":-0.03,"lo":-0.12,"hi":0.03},{"p":"L3","t":37.0,"g":0.0,"lo":-0.08,"hi":0.06},
      {"p":"L3","t":38.0,"g":0.02,"lo":-0.05,"hi":0.1},{"p":"L3","t":39.0,"g":0.04,"lo":-0.03,"hi":0.14},{"p":"L3","t":39.8,"g":0.05,"lo":0.0,"hi":0.15},
      {"p":"L3","t":40.1,"g":1.68,"lo":1.55,"hi":1.75},{"p":"L3","t":40.6,"g":1.86,"lo":1.75,"hi":1.92},{"p":"L3","t":42.0,"g":2.3,"lo":2.18,"hi":2.36},
      {"p":"L3","t":43.0,"g":2.6,"lo":2.47,"hi":2.66},{"p":"L3","t":44.0,"g":2.95,"lo":2.83,"hi":3.0},{"p":"L3","t":45.0,"g":3.22,"lo":3.08,"hi":3.28},
      {"p":"L3","t":45.8,"g":3.25,"lo":3.1,"hi":3.3},{"p":"L3","t":46.5,"g":3.15,"lo":3.02,"hi":3.2},{"p":"L3","t":47.1,"g":3.2,"lo":3.05,"hi":3.25},
      {"p":"L3","t":48.0,"g":5.0,"lo":4.9,"hi":5.05},{"p":"L3","t":48.9,"g":5.4,"lo":5.28,"hi":5.45},{"p":"L3","t":50.0,"g":5.45,"lo":5.3,"hi":5.5},
      {"p":"L3","t":51.0,"g":5.42,"lo":5.28,"hi":5.48},{"p":"L3","t":51.6,"g":5.35,"lo":5.2,"hi":5.4},{"p":"L3","t":52.4,"g":5.0,"lo":4.9,"hi":5.05},
      {"p":"L3","t":53.0,"g":2.4,"lo":2.3,"hi":2.45},{"p":"L3","t":53.8,"g":3.0,"lo":2.9,"hi":3.05},{"p":"L3","t":54.7,"g":5.35,"lo":5.25,"hi":5.4},
      {"p":"L3","t":55.6,"g":5.6,"lo":5.5,"hi":5.65},{"p":"L3","t":55.9,"g":5.65,"lo":5.55,"hi":5.7},{"p":"L3","t":56.5,"g":2.57,"lo":2.47,"hi":2.62},
      {"p":"L3","t":57.4,"g":3.1,"lo":3.0,"hi":3.15},{"p":"L3","t":58.3,"g":5.35,"lo":5.25,"hi":5.4},{"p":"L3","t":59.3,"g":5.88,"lo":5.78,"hi":5.93},
      {"p":"L3","t":59.9,"g":2.86,"lo":2.76,"hi":2.91},{"p":"L3","t":60.8,"g":3.04,"lo":2.94,"hi":3.1},{"p":"L3","t":62.0,"g":2.85,"lo":2.75,"hi":2.92},
      {"p":"L3","t":64.0,"g":2.5,"lo":2.4,"hi":2.6},{"p":"L3","t":66.0,"g":2.2,"lo":2.1,"hi":2.3},{"p":"L3","t":68.0,"g":1.95,"lo":1.85,"hi":2.05},
      {"p":"L3","t":70.0,"g":1.65,"lo":1.55,"hi":1.75},{"p":"L3","t":71.2,"g":1.44,"lo":1.34,"hi":1.52},{"p":"L3","t":71.8,"g":0.97,"lo":0.88,"hi":1.02},
      {"p":"L3","t":72.3,"g":0.02,"lo":-0.05,"hi":0.06},{"p":"L3","t":73.0,"g":0.0,"lo":-0.15,"hi":0.02},{"p":"L3","t":74.0,"g":-0.02,"lo":-0.2,"hi":0.0},
      {"p":"L3","t":76.0,"g":-0.04,"lo":-0.22,"hi":-0.01},{"p":"L3","t":78.0,"g":-0.06,"lo":-0.25,"hi":-0.03},{"p":"L3","t":80.0,"g":-0.08,"lo":-0.28,"hi":-0.05},
      {"p":"L3","t":82.0,"g":-0.1,"lo":-0.3,"hi":-0.06},{"p":"L3","t":84.5,"g":-0.12,"lo":-0.32,"hi":-0.08},
      {"p":"L3","t":37.8,"r":-0.45},{"p":"L3","t":39.5,"r":-0.45},{"p":"L3","t":39.55,"r":-0.15},

      {"p":"L4","t":21,"lo":0,"hi":0},{"p":"L4","t":28.0,"g":0,"lo":0,"hi":0},{"p":"L4","t":31.0,"g":0.0,"lo":-0.08,"hi":0.08},
      {"p":"L4","t":31.5,"g":-0.01,"lo":-0.12,"hi":0.12},{"p":"L4","t":32.5,"g":-0.02,"lo":-0.1,"hi":0.05},{"p":"L4","t":33.5,"g":-0.03,"lo":-0.14,"hi":0.04},
      {"p":"L4","t":34.5,"g":-0.03,"lo":-0.12,"hi":0.02},{"p":"L4","t":35.5,"g":-0.02,"lo":-0.13,"hi":0.03},{"p":"L4","t":36.5,"g":0.0,"lo":-0.1,"hi":0.06},
      {"p":"L4","t":37.5,"g":0.04,"lo":-0.05,"hi":0.1},{"p":"L4","t":38.5,"g":0.08,"lo":-0.05,"hi":0.15},{"p":"L4","t":39.5,"g":0.1,"lo":-0.02,"hi":0.18},
      {"p":"L4","t":40.3,"g":0.13,"lo":-0.15,"hi":0.2},{"p":"L4","t":41.0,"g":0.2,"lo":0.05,"hi":0.25},{"p":"L4","t":41.8,"g":0.3,"lo":0.15,"hi":0.32},
      {"p":"L4","t":42.5,"g":0.32,"lo":0.22,"hi":0.42},{"p":"L4","t":43.3,"g":0.35,"lo":0.25,"hi":0.45},{"p":"L4","t":44.2,"g":0.38,"lo":0.3,"hi":0.5},
      {"p":"L4","t":44.9,"g":0.41,"lo":0.32,"hi":0.52},{"p":"L4","t":45.6,"g":0.35,"lo":0.25,"hi":0.45},{"p":"L4","t":46.2,"g":0.3,"lo":0.2,"hi":0.38},
      {"p":"L4","t":46.8,"g":0.25,"lo":0.1,"hi":0.35},{"p":"L4","t":47.2,"g":1.2,"lo":1.1,"hi":1.3},{"p":"L4","t":47.5,"g":1.5,"lo":1.4,"hi":1.58},
      {"p":"L4","t":48.2,"g":1.62,"lo":1.55,"hi":1.72},{"p":"L4","t":49.0,"g":1.7,"lo":1.6,"hi":1.78},{"p":"L4","t":49.8,"g":1.73,"lo":1.65,"hi":1.8},
      {"p":"L4","t":50.4,"g":1.72,"lo":1.62,"hi":1.78},{"p":"L4","t":50.9,"g":1.4,"lo":1.3,"hi":1.48},{"p":"L4","t":51.2,"g":1.35,"lo":1.25,"hi":1.42},
      {"p":"L4","t":51.8,"g":1.65,"lo":1.55,"hi":1.72},{"p":"L4","t":52.2,"g":1.6,"lo":1.5,"hi":1.68},{"p":"L4","t":52.6,"g":0.9,"lo":0.8,"hi":1.0},
      {"p":"L4","t":52.9,"g":0.25,"lo":0.12,"hi":0.35},{"p":"L4","t":53.4,"g":0.25,"lo":0.18,"hi":0.38},{"p":"L4","t":53.9,"g":0.22,"lo":0.1,"hi":0.32},
      {"p":"L4","t":54.4,"g":1.36,"lo":1.26,"hi":1.45},{"p":"L4","t":55.0,"g":1.7,"lo":1.62,"hi":1.82},{"p":"L4","t":55.5,"g":1.85,"lo":1.78,"hi":1.95},
      {"p":"L4","t":55.9,"g":1.6,"lo":1.5,"hi":1.7},{"p":"L4","t":56.2,"g":0.25,"lo":0.15,"hi":0.32},{"p":"L4","t":56.8,"g":0.3,"lo":0.2,"hi":0.38},
      {"p":"L4","t":57.5,"g":0.28,"lo":0.18,"hi":0.38},{"p":"L4","t":58.0,"g":1.36,"lo":1.26,"hi":1.45},{"p":"L4","t":58.6,"g":1.75,"lo":1.68,"hi":1.9},
      {"p":"L4","t":59.0,"g":1.88,"lo":1.8,"hi":2.05},{"p":"L4","t":59.4,"g":1.5,"lo":1.42,"hi":1.6},{"p":"L4","t":59.7,"g":0.38,"lo":0.3,"hi":0.5},
      {"p":"L4","t":60.8,"g":0.44,"lo":0.35,"hi":0.58},{"p":"L4","t":62.0,"g":0.4,"lo":0.3,"hi":0.52},{"p":"L4","t":63.5,"g":0.36,"lo":0.25,"hi":0.48},
      {"p":"L4","t":65.0,"g":0.33,"lo":0.22,"hi":0.46},{"p":"L4","t":66.5,"g":0.3,"lo":0.2,"hi":0.42},{"p":"L4","t":68.0,"g":0.27,"lo":0.17,"hi":0.38},
      {"p":"L4","t":69.5,"g":0.24,"lo":0.13,"hi":0.34},{"p":"L4","t":70.6,"g":0.22,"lo":0.1,"hi":0.3},{"p":"L4","t":71.8,"g":0.05,"lo":-0.05,"hi":0.12},
      {"p":"L4","t":73.0,"g":-0.03,"lo":-0.15,"hi":0.02},{"p":"L4","t":74.5,"g":-0.05,"lo":-0.2,"hi":0.0},{"p":"L4","t":76.0,"g":-0.06,"lo":-0.22,"hi":-0.01},
      {"p":"L4","t":78.0,"g":-0.06,"lo":-0.25,"hi":-0.02},{"p":"L4","t":80.0,"g":-0.06,"lo":-0.27,"hi":-0.03},{"p":"L4","t":82.0,"g":-0.05,"lo":-0.27,"hi":-0.02},
      {"p":"L4","t":84.5,"g":-0.05,"lo":-0.25,"hi":-0.02},
      {"p":"L4","t":38.0,"r":-0.12},{"p":"L4","t":39.0,"r":-0.1}
    ],
    "right": [
      {"p":"R1","t":28.4,"b":0},{"p":"R1","t":30,"b":0},{"p":"R1","t":32,"b":0},{"p":"R1","t":34,"b":0},{"p":"R1","t":36,"b":0},
      {"p":"R1","t":38.0,"b":0,"r":0.57},{"p":"R1","t":39.6,"b":0,"r":0.57},{"p":"R1","t":39.65,"b":0,"r":0},{"p":"R1","t":39.95,"b":0,"r":0},
      {"p":"R1","t":40.3,"b":0.43,"r":0.45},{"p":"R1","t":41.0,"b":0.51,"r":0.53},{"p":"R1","t":41.8,"b":0.6,"r":0.62},{"p":"R1","t":42.6,"b":0.78,"r":0.8},
      {"p":"R1","t":43.7,"b":0.85,"r":0.87},{"p":"R1","t":44.5,"b":0.96,"r":0.98},{"p":"R1","t":45.3,"b":1.02,"r":1.04},{"p":"R1","t":46.0,"b":0.8,"r":0.82},
      {"p":"R1","t":46.6,"b":1.14,"r":1.16},{"p":"R1","t":47.1,"b":1.37,"r":1.39},{"p":"R1","t":47.7,"b":2.44,"r":2.46},{"p":"R1","t":48.5,"b":2.55,"r":2.57},
      {"p":"R1","t":49.6,"b":2.47,"r":2.5},{"p":"R1","t":50.4,"b":2.35,"r":2.37},{"p":"R1","t":51.2,"b":3.18,"r":3.2},{"p":"R1","t":51.7,"b":2.91,"r":2.93},
      {"p":"R1","t":52.2,"b":1.96,"r":1.98},{"p":"R1","t":53.0,"b":0.25,"r":0.27},{"p":"R1","t":53.8,"b":0.96,"r":0.98},{"p":"R1","t":54.4,"b":1.55,"r":1.57},
      {"p":"R1","t":54.9,"b":3.0,"r":3.02},{"p":"R1","t":55.7,"b":1.73,"r":1.75},{"p":"R1","t":56.5,"b":0.28,"r":0.3},{"p":"R1","t":57.3,"b":1.02,"r":1.04},
      {"p":"R1","t":57.9,"b":1.61,"r":1.63},{"p":"R1","t":58.4,"b":2.94,"r":2.96},{"p":"R1","t":58.9,"b":2.5,"r":2.52},{"p":"R1","t":59.5,"b":1.25,"r":1.27},
      {"p":"R1","t":59.9,"b":0.46,"r":0.48},{"p":"R1","t":60.3,"b":0.66,"r":0.68},{"p":"R1","t":61.1,"b":0.72,"r":0.74},{"p":"R1","t":63.0,"b":0.66,"r":0.69},
      {"p":"R1","t":65.6,"b":0.56,"r":0.59},{"p":"R1","t":68.3,"b":0.47,"r":0.5},{"p":"R1","t":70.5,"b":0.36,"r":0.39},{"p":"R1","t":71.5,"b":0.29,"r":0.31},
      {"p":"R1","t":72.0,"b":0.22,"r":0.24},{"p":"R1","t":72.4,"b":0.1,"r":0.12},{"p":"R1","t":72.9,"b":0,"r":0.01},{"p":"R1","t":75,"b":0,"r":0},
      {"p":"R1","t":78,"b":0,"r":0},{"p":"R1","t":81,"b":0,"r":0},{"p":"R1","t":83.9,"b":0,"r":0},

      {"p":"R2","t":28.4,"b":-0.05},{"p":"R2","t":32,"b":-0.05},{"p":"R2","t":36,"b":-0.04},
      {"p":"R2","t":38.0,"b":-0.04,"r":0.31},{"p":"R2","t":39.6,"b":-0.04,"r":0.31},{"p":"R2","t":39.65,"b":-0.04,"r":-0.03},{"p":"R2","t":39.95,"b":-0.05,"r":-0.04},
      {"p":"R2","t":40.3,"b":0.7,"r":0.72},{"p":"R2","t":41.5,"b":0.85,"r":0.87},{"p":"R2","t":42.6,"b":1.19,"r":1.22},{"p":"R2","t":43.9,"b":1.44,"r":1.47},
      {"p":"R2","t":45.0,"b":1.59,"r":1.61},{"p":"R2","t":45.8,"b":1.41,"r":1.43},{"p":"R2","t":46.6,"b":1.78,"r":1.8},{"p":"R2","t":47.3,"b":1.96,"r":1.98},
      {"p":"R2","t":47.7,"b":2.96,"r":2.98},{"p":"R2","t":48.5,"b":3.3,"r":3.32},{"p":"R2","t":49.6,"b":3.33,"r":3.35},{"p":"R2","t":50.4,"b":3.19,"r":3.21},
      {"p":"R2","t":51.1,"b":3.93,"r":3.95},{"p":"R2","t":51.6,"b":3.52,"r":3.54},{"p":"R2","t":52.2,"b":2.11,"r":2.13},{"p":"R2","t":53.0,"b":0.93,"r":0.95},
      {"p":"R2","t":53.7,"b":1.67,"r":1.69},{"p":"R2","t":54.3,"b":2.19,"r":2.21},{"p":"R2","t":54.9,"b":3.67,"r":3.69},{"p":"R2","t":55.7,"b":2.33,"r":2.35},
      {"p":"R2","t":56.5,"b":1.0,"r":1.02},{"p":"R2","t":57.3,"b":1.81,"r":1.83},{"p":"R2","t":57.9,"b":2.19,"r":2.21},{"p":"R2","t":58.6,"b":3.63,"r":3.65},
      {"p":"R2","t":59.2,"b":2.85,"r":2.87},{"p":"R2","t":59.7,"b":1.89,"r":1.91},{"p":"R2","t":60.2,"b":1.15,"r":1.17},{"p":"R2","t":61.1,"b":1.3,"r":1.33},
      {"p":"R2","t":63.0,"b":1.17,"r":1.21},{"p":"R2","t":65.6,"b":0.98,"r":1.02},{"p":"R2","t":68.3,"b":0.8,"r":0.84},{"p":"R2","t":70.5,"b":0.61,"r":0.65},
      {"p":"R2","t":71.8,"b":0.41,"r":0.44},{"p":"R2","t":72.3,"b":0.2,"r":0.22},{"p":"R2","t":72.6,"b":-0.04,"r":0.0},{"p":"R2","t":76.0,"b":-0.05,"r":0.0},
      {"p":"R2","t":76.2,"b":-0.05,"r":-0.04},{"p":"R2","t":80,"b":-0.05,"r":-0.05},{"p":"R2","t":83.9,"b":-0.05,"r":-0.05},

      {"p":"R3","t":28.4,"b":-0.02},{"p":"R3","t":32,"b":-0.02},{"p":"R3","t":36,"b":-0.02},
      {"p":"R3","t":38.0,"b":-0.02,"r":0.21},{"p":"R3","t":39.6,"b":-0.02,"r":0.21},{"p":"R3","t":39.65,"b":-0.02,"r":-0.01},{"p":"R3","t":39.95,"b":-0.02,"r":-0.01},
      {"p":"R3","t":40.3,"b":0.93,"r":0.95},{"p":"R3","t":41.0,"b":1.05,"r":1.07},{"p":"R3","t":42.6,"b":1.42,"r":1.44},{"p":"R3","t":43.9,"b":1.91,"r":1.93},
      {"p":"R3","t":45.0,"b":2.15,"r":2.17},{"p":"R3","t":46.0,"b":1.99,"r":2.01},{"p":"R3","t":46.9,"b":2.47,"r":2.49},{"p":"R3","t":47.4,"b":2.56,"r":2.58},
      {"p":"R3","t":48.0,"b":3.77,"r":3.79},{"p":"R3","t":49.0,"b":4.06,"r":4.08},{"p":"R3","t":50.1,"b":4.02,"r":4.04},{"p":"R3","t":51.2,"b":4.34,"r":4.36},
      {"p":"R3","t":51.7,"b":4.1,"r":4.12},{"p":"R3","t":52.5,"b":2.88,"r":2.9},{"p":"R3","t":53.2,"b":1.5,"r":1.52},{"p":"R3","t":53.8,"b":2.15,"r":2.17},
      {"p":"R3","t":54.4,"b":2.56,"r":2.58},{"p":"R3","t":55.2,"b":4.1,"r":4.12},{"p":"R3","t":56.0,"b":3.12,"r":3.14},{"p":"R3","t":56.8,"b":1.62,"r":1.64},
      {"p":"R3","t":57.6,"b":2.47,"r":2.49},{"p":"R3","t":58.0,"b":2.64,"r":2.66},{"p":"R3","t":58.7,"b":4.1,"r":4.12},{"p":"R3","t":59.5,"b":3.37,"r":3.39},
      {"p":"R3","t":60.0,"b":2.31,"r":2.33},{"p":"R3","t":60.5,"b":1.7,"r":1.72},{"p":"R3","t":61.4,"b":1.95,"r":1.97},{"p":"R3","t":63.0,"b":1.76,"r":1.78},
      {"p":"R3","t":65.6,"b":1.48,"r":1.5},{"p":"R3","t":68.3,"b":1.2,"r":1.22},{"p":"R3","t":71.0,"b":0.9,"r":0.92},{"p":"R3","t":71.8,"b":0.65,"r":0.67},
      {"p":"R3","t":72.3,"b":0.53,"r":0.55},{"p":"R3","t":72.7,"b":0.0,"r":0.01},{"p":"R3","t":76,"b":0,"r":0},{"p":"R3","t":80,"b":0,"r":0},
      {"p":"R3","t":83.9,"b":-0.02,"r":-0.02},

      {"p":"R4","t":28.4,"b":-0.05},{"p":"R4","t":32,"b":-0.05},{"p":"R4","t":36,"b":-0.04},
      {"p":"R4","t":38.0,"b":-0.04,"r":0.47},{"p":"R4","t":39.6,"b":-0.04,"r":0.47},{"p":"R4","t":39.65,"b":-0.04,"r":-0.02},{"p":"R4","t":39.95,"b":-0.03,"r":-0.02},
      {"p":"R4","t":40.3,"b":1.18,"r":1.2},{"p":"R4","t":41.0,"b":1.37,"r":1.4},{"p":"R4","t":42.1,"b":1.67,"r":1.7},{"p":"R4","t":43.7,"b":2.1,"r":2.13},
      {"p":"R4","t":45.3,"b":2.75,"r":2.78},{"p":"R4","t":46.3,"b":2.65,"r":2.68},{"p":"R4","t":47.4,"b":2.7,"r":2.72},{"p":"R4","t":48.0,"b":3.68,"r":3.7},
      {"p":"R4","t":48.8,"b":4.17,"r":4.2},{"p":"R4","t":49.8,"b":4.46,"r":4.5},{"p":"R4","t":50.5,"b":4.4,"r":4.43},{"p":"R4","t":51.2,"b":4.36,"r":4.39},
      {"p":"R4","t":51.7,"b":4.46,"r":4.49},{"p":"R4","t":52.5,"b":4.07,"r":4.1},{"p":"R4","t":52.9,"b":2.7,"r":2.73},{"p":"R4","t":53.3,"b":2.0,"r":2.03},
      {"p":"R4","t":54.0,"b":2.5,"r":2.53},{"p":"R4","t":54.5,"b":2.6,"r":2.63},{"p":"R4","t":55.2,"b":4.41,"r":4.45},{"p":"R4","t":56.0,"b":4.26,"r":4.3},
      {"p":"R4","t":56.4,"b":2.99,"r":3.02},{"p":"R4","t":57.0,"b":2.1,"r":2.13},{"p":"R4","t":57.6,"b":2.55,"r":2.58},{"p":"R4","t":58.0,"b":2.65,"r":2.68},
      {"p":"R4","t":58.7,"b":4.46,"r":4.5},{"p":"R4","t":59.7,"b":4.41,"r":4.45},{"p":"R4","t":60.2,"b":2.99,"r":3.02},{"p":"R4","t":60.5,"b":2.2,"r":2.23},
      {"p":"R4","t":61.4,"b":2.45,"r":2.5},{"p":"R4","t":63.0,"b":2.2,"r":2.25},{"p":"R4","t":65.6,"b":1.81,"r":1.86},{"p":"R4","t":68.3,"b":1.52,"r":1.57},
      {"p":"R4","t":71.0,"b":1.18,"r":1.23},{"p":"R4","t":71.8,"b":0.83,"r":0.86},{"p":"R4","t":72.2,"b":0.74,"r":0.76},{"p":"R4","t":72.6,"b":0.0,"r":0.01},
      {"p":"R4","t":76,"b":-0.03,"r":-0.02},{"p":"R4","t":80,"b":-0.05,"r":-0.05},{"p":"R4","t":83.9,"b":-0.05,"r":-0.05}
    ]
  }
}
